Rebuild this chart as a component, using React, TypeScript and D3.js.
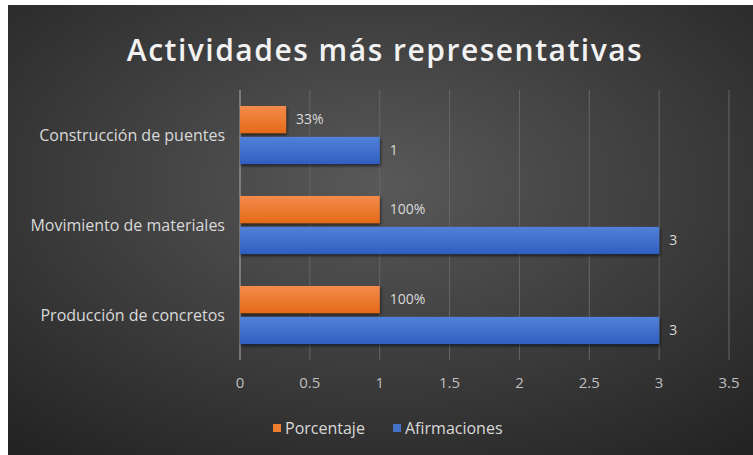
import React from 'react';
import * as d3 from 'd3';

const categories = ['Construcción de puentes', 'Movimiento de materiales', 'Producción de concretos'];
const seriesNames = ['Porcentaje', 'Afirmaciones'];
const porcentaje = [0.33, 1, 1];
const porcentajeLabels = ['33%', '100%', '100%'];
const afirmaciones = [1, 3, 3];
const xTicks = [0, 0.5, 1, 1.5, 2, 2.5, 3, 3.5];

const W = 745;
const H = 450;
const FONT = '"Open Sans", "Noto Sans", sans-serif';

const App = () => {
  // plot area
  const x = d3.scaleLinear().domain([0, 3.5]).range([232, 721]);
  const y = d3.scaleBand().domain(categories).range([85, 355]).paddingInner(0.355).paddingOuter(0.1775);
  const ySub = d3.scaleBand().domain(seriesNames).range([0, y.bandwidth()]).paddingInner(0.12);
  const color = d3.scaleOrdinal<string>().domain(seriesNames).range(['url(#gOrange)', 'url(#gBlue)']);
  const legendColor = d3.scaleOrdinal<string>().domain(seriesNames).range(['#ed7d31', '#4472c4']);

  const rows = categories.map((c, i) => ({
    cat: c,
    bars: [
      { s: 'Porcentaje', v: porcentaje[i], label: porcentajeLabels[i] },
      { s: 'Afirmaciones', v: afirmaciones[i], label: String(afirmaciones[i]) },
    ],
  }));

  const fmt = (d: number) => String(d);

  return (
    <svg width={W} height={H} style={{ position: 'absolute', left: 8, top: 5 }}>
      <defs>
        <radialGradient id="bg" cx="50%" cy="40%" r="75%">
          <stop offset="0%" stopColor="#595959" />
          <stop offset="100%" stopColor="#242424" />
        </radialGradient>
        <linearGradient id="gOrange" x1="0" y1="0" x2="0" y2="1">
          <stop offset="0%" stopColor="#f48b4b" />
          <stop offset="100%" stopColor="#e46a18" />
        </linearGradient>
        <linearGradient id="gBlue" x1="0" y1="0" x2="0" y2="1">
          <stop offset="0%" stopColor="#5281d9" />
          <stop offset="100%" stopColor="#2f5fc0" />
        </linearGradient>
        <filter id="shadow" x="-10%" y="-20%" width="130%" height="160%">
          <feDropShadow dx="1" dy="2" stdDeviation="1.5" floodColor="#000" floodOpacity="0.6" />
        </filter>
      </defs>

      <rect x={0} y={0} width={W} height={H} fill="url(#bg)" />

      <text x={377} y={56} textAnchor="middle" fill="#f2f2f2" fontFamily={FONT} fontSize={30} fontWeight={600} letterSpacing={1.5}>
        Actividades más representativas
      </text>

      {/* gridlines */}
      {xTicks.map((t) => (
        <line key={t} x1={x(t)} x2={x(t)} y1={85} y2={355} stroke={t === 0 ? '#b0b0b0' : '#666666'} strokeWidth={1} />
      ))}

      {/* bars */}
      {rows.map((r) => (
        <g key={r.cat} transform={`translate(0,${y(r.cat)})`}>
          {r.bars.map((b) => (
            <g key={b.s}>
              <rect
                x={x(0)}
                y={ySub(b.s)}
                width={x(b.v) - x(0)}
                height={ySub.bandwidth()}
                fill={color(b.s)}
                filter="url(#shadow)"
              />
              <text
                x={x(b.v) + 10}
                y={(ySub(b.s) || 0) + ySub.bandwidth() / 2}
                dy="0.35em"
                fill="#d9d9d9"
                fontFamily={FONT}
                fontSize={14}
              >
                {b.label}
              </text>
            </g>
          ))}
        </g>
      ))}

      {/* category labels */}
      {categories.map((c) => (
        <text
          key={c}
          x={217}
          y={(y(c) || 0) + y.bandwidth() / 2}
          dy="0.35em"
          textAnchor="end"
          fill="#d9d9d9"
          fontFamily={FONT}
          fontSize={16}
        >
          {c}
        </text>
      ))}

      {/* x tick labels */}
      {xTicks.map((t) => (
        <text key={t} x={x(t)} y={378} dy="0.35em" textAnchor="middle" fill="#bfbfbf" fontFamily={FONT} fontSize={15}>
          {fmt(t)}
        </text>
      ))}

      {/* legend */}
      <g transform="translate(265,423)">
        <rect x={0} y={-4} width={8} height={8} fill={legendColor('Porcentaje')} />
        <text x={12} y={0} dy="0.35em" fill="#d9d9d9" fontFamily={FONT} fontSize={16}>Porcentaje</text>
        <rect x={120} y={-4} width={8} height={8} fill={legendColor('Afirmaciones')} />
        <text x={132} y={0} dy="0.35em" fill="#d9d9d9" fontFamily={FONT} fontSize={16}>Afirmaciones</text>
      </g>
    </svg>
  );
};

export default App;
